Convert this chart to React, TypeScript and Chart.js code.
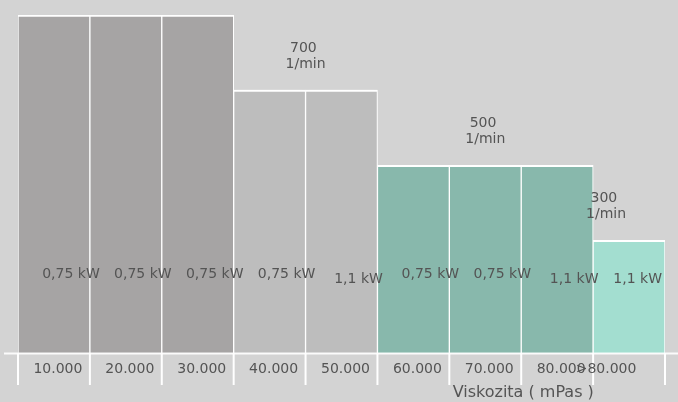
import React, { useEffect, useRef } from "react";
import { Chart, registerables } from "chart.js";

Chart.register(...registerables);

// ---- data ----
const categories = ["10.000", "20.000", "30.000", "40.000", "50.000", "60.000", "70.000", "80.000", ">80.000"];
const speedValues = [900, 900, 900, 700, 700, 500, 500, 500, 300];
const powerLabels = ["0,75 kW", "0,75 kW", "0,75 kW", "0,75 kW", "1,1 kW", "0,75 kW", "0,75 kW", "1,1 kW", "1,1 kW"];
const groupSpeeds = [900, 700, 500, 300];
const speedUnit = "1/min";
const axisTitle = "Viskozita ( mPas )";

const barColors: Record<number, string> = {
  900: "#a6a4a4",
  700: "#bdbdbd",
  500: "#88b8ac",
  300: "#a3ded0",
};

const FONT = "DejaVu Sans";
const TEXT = "#545454";
const BG = "#d3d3d3";

const decorPlugin = {
  id: "decor",
  beforeDatasetsDraw(chart: any) {
    const ctx = chart.ctx;
    ctx.save();
    ctx.shadowColor = "rgba(255,255,255,0.7)";
    ctx.shadowBlur = 5;
  },
  afterDatasetsDraw(chart: any) {
    chart.ctx.restore();
  },
  afterDraw(chart: any) {
    const ctx = chart.ctx;
    const x = chart.scales.x;
    const y = chart.scales.y;
    const area = chart.chartArea;
    const n = categories.length;
    const half = (x.getPixelForValue(1) - x.getPixelForValue(0)) / 2;
    const lastShift = -23;

    ctx.save();
    // axis line
    ctx.strokeStyle = "rgba(255,255,255,0.9)";
    ctx.lineWidth = 2;
    ctx.beginPath();
    ctx.moveTo(4, area.bottom + 0.5);
    ctx.lineTo(chart.width, area.bottom + 0.5);
    ctx.stroke();
    // tick marks at bar boundaries
    ctx.strokeStyle = "#ffffff";
    for (let i = 0; i <= n; i++) {
      const px = i < n ? x.getPixelForValue(i) - half : x.getPixelForValue(n - 1) + half;
      ctx.beginPath();
      ctx.moveTo(px, area.bottom);
      ctx.lineTo(px, area.bottom + 32);
      ctx.stroke();
    }

    ctx.fillStyle = TEXT;
    ctx.textBaseline = "alphabetic";
    ctx.textAlign = "center";
    // category labels
    ctx.font = `14px "${FONT}"`;
    categories.forEach((c, i) => {
      const px = x.getPixelForValue(i) + (i === n - 1 ? lastShift : 4);
      ctx.fillText(c, px, area.bottom + 20);
    });

    // power labels
    const kwLift: Record<string, number> = { "0,75 kW": 75, "1,1 kW": 70 };
    powerLabels.forEach((p, i) => {
      const w = ctx.measureText(p).width;
      let px = x.getPixelForValue(i) + 17;
      px = Math.min(px, area.right - w / 2 - 3);
      ctx.fillText(p, px, area.bottom - (kwLift[p] ?? 75));
    });

    // speed group labels
    groupSpeeds.forEach((s) => {
      const idx = speedValues.map((v, i) => (v === s ? i : -1)).filter((i) => i >= 0);
      if (!idx.length) return;
      let cx = (x.getPixelForValue(idx[0]) + x.getPixelForValue(idx[idx.length - 1])) / 2;
      if (idx[idx.length - 1] === n - 1) cx += lastShift;
      const top = y.getPixelForValue(s);
      ctx.fillText(speedUnit, cx, top - 22);
      ctx.fillText(`${s} `, cx, top - 38.5);
    });

    // axis title
    ctx.font = `16px "${FONT}"`;
    const tx = (x.getPixelForValue(6) + x.getPixelForValue(7)) / 2 + 2;
    ctx.fillText(axisTitle, tx, chart.height - 5);
    ctx.restore();
  },
};

export default function App() {
  const ref = useRef<HTMLCanvasElement>(null);
  useEffect(() => {
    document.body.style.margin = "0";
    const chart = new Chart(ref.current!, {
      type: "bar",
      data: {
        labels: categories,
        datasets: [
          {
            data: speedValues,
            backgroundColor: speedValues.map((v) => barColors[v]),
            borderColor: "#ffffff",
            borderWidth: { top: 2, left: 1, right: 1, bottom: 0 },
            borderSkipped: false,
            barPercentage: 1,
            categoryPercentage: 1,
          },
        ],
      },
      options: {
        animation: false,
        responsive: false,
        maintainAspectRatio: false,
        layout: { padding: { top: 15, left: 18, right: 13, bottom: 49 } },
        plugins: { legend: { display: false }, tooltip: { enabled: false }, title: { display: false } },
        scales: {
          x: { display: false, offset: true },
          y: { display: false, min: 0, max: 900 },
        },
      },
      plugins: [decorPlugin],
    });
    return () => chart.destroy();
  }, []);
  return (
    <div style={{ position: "fixed", left: 0, top: 0, width: 678, height: 402, background: BG }}>
      <canvas ref={ref} width={678} height={402} style={{ width: 678, height: 402, display: "block" }} />
    </div>
  );
}
